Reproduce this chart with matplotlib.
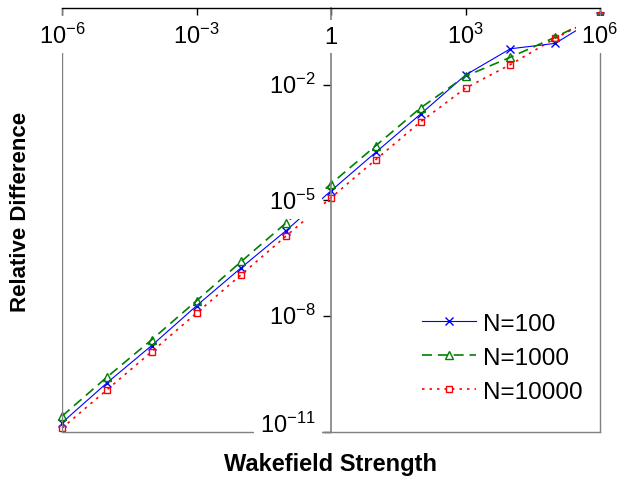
#!/usr/bin/env python3
# coding: utf-8

"""
Relative difference against wakefield strength for three N values,
log-log view with the axes crossing at x = 1.
"""

import numpy as np
import matplotlib
matplotlib.use('Agg')
import matplotlib.pyplot as plt

plt.rcParams['font.family'] = ['Liberation Sans', 'DejaVu Sans']
plt.rcParams['mathtext.fontset'] = 'custom'
plt.rcParams['mathtext.rm'] = 'Liberation Sans'
plt.rcParams['mathtext.it'] = 'Liberation Sans:italic'
plt.rcParams['mathtext.bf'] = 'Liberation Sans:bold'

# wakefield strength (x) and log10 of the relative difference for each run
strength = [1e-6, 1e-5, 1e-4, 1e-3, 1e-2, 1e-1, 1e0,
            1e1, 1e2, 1e3, 1e4, 1e5, 1e6]
log_n100 = [-10.76, -9.73, -8.76, -7.73, -6.74, -5.78, -4.75,
            -3.75, -2.76, -1.75, -1.07, -0.93, -0.22]
log_n1000 = [-10.59, -9.58, -8.61, -7.60, -6.58, -5.58, -4.57,
             -3.58, -2.60, -1.78, -1.29, -0.77, -0.20]
log_n10000 = [-10.90, -9.91, -8.92, -7.92, -6.92, -5.92, -4.93,
              -3.94, -2.96, -2.09, -1.48, -0.80, -0.20]

xticks = [1e-6, 1e-3, 1e0, 1e3, 1e6]
xtick_labels = ['$10^{-6}$', '$10^{-3}$', '1', '$10^{3}$', '$10^{6}$']
yticks = [1e-11, 1e-8, 1e-5, 1e-2]
ytick_labels = ['$10^{-11}$', '$10^{-8}$', '$10^{-5}$', '$10^{-2}$']

GRAY = '#808080'


def main():
    fig = plt.figure(figsize=(6.24, 4.81), dpi=100)
    ax = fig.add_axes([62 / 624, 1 - 433 / 481, 538 / 624, 424.5 / 481])
    ax.set_xscale('log')
    ax.set_yscale('log')
    ax.set_xlim(1e-6, 1e6)
    ax.set_ylim(1e-11, 1e0)

    ax.plot(strength, 10 ** np.array(log_n100), color='blue', ls='-',
            lw=0.8, marker='x', ms=6, mew=1.0, label='N=100', clip_on=False)
    ax.plot(strength, 10 ** np.array(log_n1000), color='#008000',
            ls=(0, (6, 3.5)), lw=1.2, marker='^', ms=6, mfc='none', mew=1.0,
            label='N=1000', clip_on=False)
    ax.plot(strength, 10 ** np.array(log_n10000), color='red',
            ls=(0, (1.5, 3)), lw=1.2, marker='s', ms=5, mfc='none', mew=1.0,
            label='N=10000', clip_on=False)

    # box: gray edges, black axis line on top, y axis through x = 1
    for side in ['bottom', 'right']:
        ax.spines[side].set_color(GRAY)
        ax.spines[side].set_linewidth(1.0)
    ax.spines['top'].set_color('black')
    ax.spines['top'].set_linewidth(1.0)
    ax.spines['left'].set_position(('data', 1.0))
    ax.spines['left'].set_color(GRAY)
    ax.spines['left'].set_linewidth(1.2)
    ax.axvline(1e-6, color=GRAY, lw=1.0, zorder=2.5)

    ax.minorticks_off()
    ax.xaxis.set_ticks_position('top')
    ax.set_xticks(xticks)
    ax.set_xticklabels([])
    ax.tick_params(axis='x', direction='in', length=5, width=1.0,
                   color='black')
    ax.set_yticks(yticks)
    ax.set_yticklabels([])
    ax.tick_params(axis='y', direction='out', length=6, width=1.0,
                   color='black')

    box = dict(boxstyle='square,pad=0.25', fc='white', ec='none')
    for x, lab in zip(xticks, xtick_labels):
        ax.annotate(lab, xy=(x, 1.0), xycoords=('data', 'axes fraction'),
                    xytext=(0, -35), textcoords='offset pixels',
                    ha='center', va='baseline', fontsize=17,
                    bbox=box, zorder=5, annotation_clip=False)
    for y, lab in zip(yticks, ytick_labels):
        dy = 0 if y == yticks[0] else -8
        ax.annotate(lab, xy=(1.0, y), xytext=(-15, dy),
                    textcoords='offset pixels', ha='right', va='baseline',
                    fontsize=17, bbox=box, zorder=5, annotation_clip=False)

    leg = ax.legend(loc='upper left',
                    bbox_to_anchor=(348 / 538, 1 - 293 / 424.5),
                    frameon=False, fontsize=17.5, handlelength=2.2,
                    handletextpad=0.3, labelspacing=0.5, borderpad=0)
    leg.set_zorder(6)

    fig.text(331 / 624, 1 - 465 / 481, 'Wakefield Strength', ha='center',
             va='center', fontsize=17, fontweight='bold')
    fig.text(21 / 624, 1 - 212 / 481, 'Relative Difference', ha='center',
             va='center', rotation=90, fontsize=16, fontweight='bold')

    fig.savefig('out.png', dpi=100)


if __name__ == '__main__':
    main()
